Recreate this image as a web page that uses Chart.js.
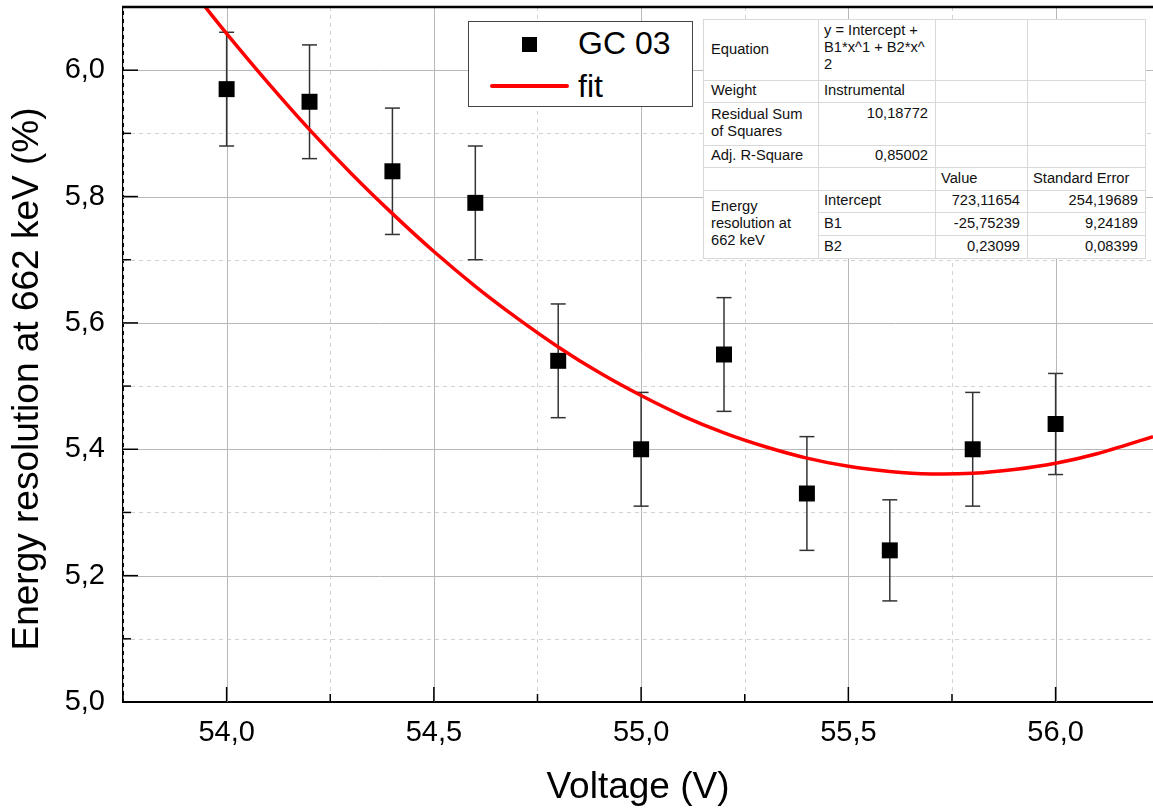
<!DOCTYPE html>
<html>
<head>
<meta charset="utf-8">
<script src="https://cdn.jsdelivr.net/npm/chart.js@4.4.0/dist/chart.umd.min.js"></script>
<style>
  html, body { margin: 0; padding: 0; background: #fff; overflow: hidden; }
  #wrap { position: relative; width: 1153px; height: 812px; }
  #plot { position: absolute; left: 0; top: 0; }
  #legend {
    position: absolute; left: 468px; top: 21px; width: 225px; height: 86px;
    box-sizing: border-box; border: 1.5px solid #444; background: #fff;
    font-family: "Liberation Sans", Arial, sans-serif; font-size: 32px; line-height: 32px; color: #000;
  }
  #legend .sq { position: absolute; left: 53px; top: 15px; width: 15px; height: 15px; background: #000; }
  #legend .ln { position: absolute; left: 21px; top: 62px; width: 79px; height: 4px; background: #f00; border-radius: 2px; }
  #legend .t1 { position: absolute; left: 109px; top: 5px; }
  #legend .t2 { position: absolute; left: 109px; top: 48px; }
  table.stats {
    position: absolute; left: 703px; top: 19px; width: 442px;
    border-collapse: collapse; table-layout: fixed; background: #fff;
    font-family: "Liberation Sans", Arial, sans-serif; font-size: 14.7px; line-height: 17px; color: #111;
    border: 1.5px solid #8a8a8a;
  }
  table.stats td { border: 1px solid #d9d9d9; padding: 0 7px 2px 7px; vertical-align: middle; white-space: nowrap; overflow: hidden; }
  table.stats td.r { text-align: right; }
  table.stats td.top { vertical-align: top; padding-top: 2px; }
  table.stats td.c2 { padding-left: 5px; }
</style>
</head>
<body>
<div id="wrap">
  <canvas id="plot" width="1153" height="812"></canvas>
  <div id="legend">
    <div class="sq"></div><div class="t1">GC 03</div>
    <div class="ln"></div><div class="t2">fit</div>
  </div>
  <table class="stats">
    <colgroup><col style="width:115px"><col style="width:117px"><col style="width:92px"><col style="width:118px"></colgroup>
    <tr style="height:61px"><td>Equation</td><td class="top c2">y = Intercept +<br>B1*x^1 + B2*x^<br>2</td><td></td><td></td></tr>
    <tr style="height:22px"><td>Weight</td><td class="c2">Instrumental</td><td></td><td></td></tr>
    <tr style="height:43px"><td>Residual Sum<br>of Squares</td><td class="r top">10,18772</td><td></td><td></td></tr>
    <tr style="height:22px"><td>Adj. R-Square</td><td class="r">0,85002</td><td></td><td></td></tr>
    <tr style="height:23px"><td></td><td></td><td class="c2">Value</td><td class="c2">Standard Error</td></tr>
    <tr style="height:22px"><td rowspan="3">Energy<br>resolution at<br>662 keV</td><td class="c2">Intercept</td><td class="r">723,11654</td><td class="r">254,19689</td></tr>
    <tr style="height:23px"><td class="c2">B1</td><td class="r">-25,75239</td><td class="r">9,24189</td></tr>
    <tr style="height:23px"><td class="c2">B2</td><td class="r">0,23099</td><td class="r">0,08399</td></tr>
  </table>
</div>
<script>
const voltage = [54.0, 54.2, 54.4, 54.6, 54.8, 55.0, 55.2, 55.4, 55.6, 55.8, 56.0];
const resolution = [5.97, 5.95, 5.84, 5.79, 5.54, 5.40, 5.55, 5.33, 5.24, 5.40, 5.44];
const resolutionErr = [0.09, 0.09, 0.10, 0.09, 0.09, 0.09, 0.09, 0.09, 0.08, 0.09, 0.08];

// fit curve
const fitVoltage = [53.94, 54.0, 54.1, 54.2, 54.3, 54.4, 54.5, 54.6, 54.7, 54.8, 54.9, 55.0,
  55.1, 55.2, 55.3, 55.4, 55.5, 55.6, 55.7, 55.8, 55.9, 56.0, 56.1, 56.235];
const fitResolution = [6.107, 6.058, 5.980, 5.906, 5.837, 5.773, 5.713, 5.658, 5.608, 5.562, 5.521, 5.485,
  5.453, 5.426, 5.404, 5.386, 5.373, 5.365, 5.361, 5.362, 5.368, 5.378, 5.393, 5.420];

const xMajorTicks = [54.0, 54.5, 55.0, 55.5, 56.0];
const xMinorTicks = [53.75, 54.25, 54.75, 55.25, 55.75];
const yMajorTicks = [5.0, 5.2, 5.4, 5.6, 5.8, 6.0];
const yMinorTicks = [5.1, 5.3, 5.5, 5.7, 5.9];

const FONT = '"Liberation Sans", Arial, sans-serif';
const comma = (v) => v.toFixed(1).replace('.', ',');

const line = (ctx, x1, y1, x2, y2) => {
  ctx.beginPath();
  ctx.moveTo(x1, y1);
  ctx.lineTo(x2, y2);
  ctx.stroke();
};

const framePlugin = {
  id: 'frame',
  beforeDatasetsDraw(chart) {
    const { ctx, chartArea: a, scales: { x, y } } = chart;
    ctx.save();
    ctx.beginPath();
    ctx.rect(a.left, a.top, a.right - a.left, a.bottom - a.top);
    ctx.clip();

    // minor grid, dashed
    ctx.lineWidth = 1;
    ctx.strokeStyle = '#d2d2d2';
    ctx.setLineDash([4, 4]);
    xMinorTicks.forEach((v) => {
      const px = Math.round(x.getPixelForValue(v)) + 0.5;
      line(ctx, px, a.top, px, a.bottom);
    });
    yMinorTicks.forEach((v) => {
      const py = Math.round(y.getPixelForValue(v)) + 0.5;
      line(ctx, a.left, py, a.right, py);
    });

    // major grid
    ctx.setLineDash([]);
    ctx.strokeStyle = '#b8b8b8';
    xMajorTicks.forEach((v) => {
      const px = Math.round(x.getPixelForValue(v)) + 0.5;
      line(ctx, px, a.top, px, a.bottom);
    });
    yMajorTicks.slice(1).forEach((v) => {
      const py = Math.round(y.getPixelForValue(v)) + 0.5;
      line(ctx, a.left, py, a.right, py);
    });

    // error bars
    ctx.strokeStyle = '#333';
    ctx.lineWidth = 1.5;
    voltage.forEach((v, i) => {
      const px = x.getPixelForValue(v);
      const top = y.getPixelForValue(resolution[i] + resolutionErr[i]);
      const bot = y.getPixelForValue(resolution[i] - resolutionErr[i]);
      line(ctx, px, top, px, bot);
      line(ctx, px - 7.5, top, px + 7.5, top);
      line(ctx, px - 7.5, bot, px + 7.5, bot);
    });
    ctx.restore();
  },
  afterDatasetsDraw(chart) {
    const { ctx, chartArea: a, scales: { x, y } } = chart;
    ctx.save();
    ctx.strokeStyle = '#000';
    ctx.lineWidth = 1.5;
    xMajorTicks.forEach((v) => { const px = x.getPixelForValue(v); line(ctx, px, a.bottom, px, a.bottom - 15); });
    xMinorTicks.forEach((v) => { const px = x.getPixelForValue(v); line(ctx, px, a.bottom, px, a.bottom - 8); });
    yMajorTicks.forEach((v) => { const py = y.getPixelForValue(v); line(ctx, a.left, py, a.left + 15, py); });
    yMinorTicks.forEach((v) => { const py = y.getPixelForValue(v); line(ctx, a.left, py, a.left + 8, py); });
    // top frame line
    ctx.lineWidth = 2.5;
    line(ctx, a.left - 1, a.top, a.right, a.top);
    ctx.restore();
  },
  afterDraw(chart) {
    const { ctx, chartArea: a } = chart;
    ctx.save();
    ctx.fillStyle = '#000';
    ctx.font = `37px ${FONT}`;
    ctx.textAlign = 'center';
    ctx.textBaseline = 'alphabetic';
    ctx.fillText('Voltage (V)', (a.left + a.right) / 2, 798);
    ctx.translate(38, 379);
    ctx.rotate(-Math.PI / 2);
    ctx.fillText('Energy resolution at 662 keV (%)', 0, 0);
    ctx.restore();
  },
};

new Chart(document.getElementById('plot'), {
  type: 'scatter',
  data: {
    datasets: [
      {
        label: 'fit',
        data: fitVoltage.map((v, i) => ({ x: v, y: fitResolution[i] })),
        showLine: true,
        borderColor: '#ff0000',
        borderWidth: 3.5,
        pointRadius: 0,
        tension: 0.3,
        order: 0,
      },
      {
        label: 'GC 03',
        data: voltage.map((v, i) => ({ x: v, y: resolution[i] })),
        pointStyle: 'rect',
        pointRadius: 11.3,
        pointBorderWidth: 0,
        backgroundColor: '#000',
        borderColor: '#000',
        order: 1,
      },
    ],
  },
  options: {
    responsive: false,
    animation: false,
    devicePixelRatio: 1,
    layout: { autoPadding: false, padding: { top: 7, right: 0, left: 0, bottom: 0 } },
    plugins: { legend: { display: false }, tooltip: { enabled: false } },
    scales: {
      x: {
        type: 'linear',
        min: 53.75,
        max: 56.235,
        afterBuildTicks: (s) => { s.ticks = xMajorTicks.map((v) => ({ value: v })); },
        afterFit: (s) => {
          s.height = 110;
          s.paddingLeft = 0;
          s.paddingRight = 0;
        },
        grid: { display: false, drawTicks: false },
        border: { display: true, color: '#000', width: 2 },
        ticks: {
          font: { family: FONT, size: 29 },
          color: '#000',
          padding: 14,
          autoSkip: false,
          maxRotation: 0,
          callback: (v) => comma(v),
        },
      },
      y: {
        type: 'linear',
        min: 5.0,
        max: 6.1,
        afterBuildTicks: (s) => { s.ticks = yMajorTicks.map((v) => ({ value: v })); },
        afterFit: (s) => {
          s.width = 123;
          s.paddingTop = 0;
          s.paddingBottom = 0;
        },
        grid: { display: false, drawTicks: false },
        border: { display: true, color: '#000', width: 2 },
        ticks: {
          font: { family: FONT, size: 29 },
          color: '#000',
          padding: 18,
          callback: (v) => comma(v),
        },
      },
    },
  },
  plugins: [framePlugin],
});
</script>
</body>
</html>
